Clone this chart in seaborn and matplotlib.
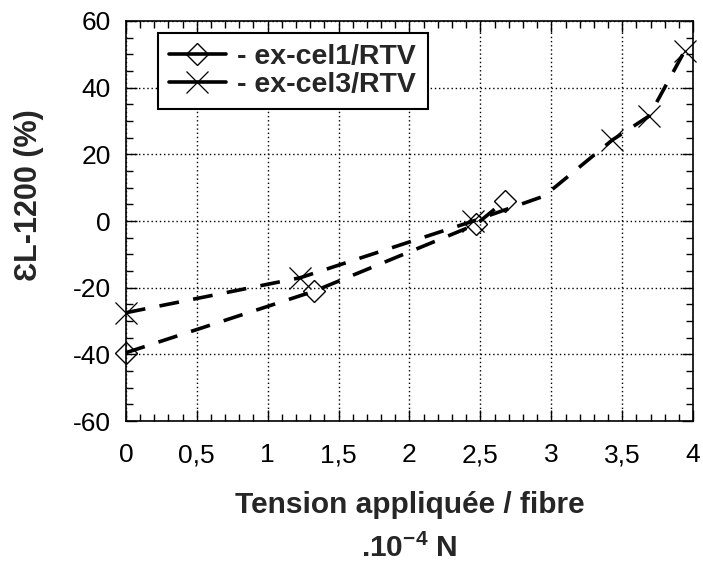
import matplotlib
matplotlib.use("Agg")
import matplotlib.pyplot as plt
from matplotlib.lines import Line2D
from matplotlib.ticker import MultipleLocator, FixedLocator, FuncFormatter
import pandas as pd
import seaborn as sns

# ex-cel1/RTV (losanges)
cel1X = [0.0, 1.33, 2.47, 2.67]
cel1Y = [-39.5, -21.0, -1.0, 6.0]
# ex-cel3/RTV (croix) - le coude vers 2.95 n'a pas de marqueur sur l'original
cel3X = [0.0, 1.23, 2.45, 2.95, 3.43, 3.69, 3.94]
cel3Y = [-27.5, -17.0, 0.0, 7.5, 24.3, 31.5, 51.0]
cel3Marked = [0, 1, 2, 4, 5, 6]

seriesLabels = ["- ex-cel1/RTV", "- ex-cel3/RTV"]
xTicks = [0, 0.5, 1, 1.5, 2, 2.5, 3, 3.5, 4]
yTicks = [-60, -40, -20, 0, 20, 40, 60]
xLabel = "Tension appliquée / fibre"
xUnit = ".10$^{\\mathbf{-4}}$ N"
yLabel = "ƐL-1200 (%)"

sns.set_style("ticks")
plt.rcParams["font.family"] = ["Liberation Sans", "DejaVu Sans"]
plt.rcParams["mathtext.fontset"] = "custom"
plt.rcParams["mathtext.rm"] = "Liberation Sans"
plt.rcParams["mathtext.bf"] = "Liberation Sans:bold"

LW = 2.6
DASH = (5.5, 4)
diamondStyle = dict(marker="D", ms=11.5, mfc="none", mec="black", mew=1.0)
crossStyle = dict(marker="x", ms=16, mec="black", mew=0.9)

fig, ax = plt.subplots(figsize=(7.03, 5.66))
fig.subplots_adjust(left=0.179, right=0.986, top=0.963, bottom=0.256)

cel1 = pd.DataFrame({"x": cel1X, "y": cel1Y})
cel3 = pd.DataFrame({"x": cel3X, "y": cel3Y})
sns.lineplot(data=cel1, x="x", y="y", ax=ax, sort=False, estimator=None,
             color="black", lw=LW, dashes=DASH, clip_on=False, legend=False,
             **diamondStyle)
sns.lineplot(data=cel3, x="x", y="y", ax=ax, sort=False, estimator=None,
             color="black", lw=LW, dashes=DASH, clip_on=False, legend=False,
             markevery=cel3Marked, **crossStyle)

ax.set_xlim(0, 4)
ax.set_ylim(-60, 60)
ax.xaxis.set_major_locator(FixedLocator(xTicks))
ax.yaxis.set_major_locator(FixedLocator(yTicks))
ax.xaxis.set_minor_locator(MultipleLocator(0.1))
ax.yaxis.set_minor_locator(MultipleLocator(5))
fmt = FuncFormatter(lambda v, p: f"{v:g}".replace(".", ","))
ax.xaxis.set_major_formatter(fmt)
ax.yaxis.set_major_formatter(fmt)

ax.set_axisbelow(True)
ax.grid(True, which="major", color="black", linestyle=(0, (1, 2)), lw=1.0)
ax.tick_params(which="both", direction="in", top=True, right=True,
               colors="black", width=1.0, labelsize=19)
ax.tick_params(which="major", length=8)
ax.tick_params(which="minor", length=5)
ax.tick_params(axis="x", pad=16)
ax.tick_params(axis="y", pad=11)
for sp in ax.spines.values():
    sp.set_color("black")
    sp.set_linewidth(1.2)

ax.set_xlabel(xLabel, fontsize=21.5, fontweight="bold", va="baseline")
ax.xaxis.set_label_coords(0.5, -0.23)
ax.text(0.5, -0.34, xUnit, transform=ax.transAxes, ha="center", va="baseline",
        fontsize=21.5, fontweight="bold")
ax.set_ylabel(yLabel, fontsize=22, fontweight="bold", va="center")
ax.yaxis.set_label_coords(-0.17, 0.565)

handles = [
    Line2D([], [], color="black", lw=LW, **diamondStyle),
    Line2D([], [], color="black", lw=LW, **crossStyle),
]
leg = ax.legend(handles, seriesLabels, loc="upper left",
                bbox_to_anchor=(0.056, 0.97), borderaxespad=0, frameon=True,
                fancybox=False, edgecolor="black", framealpha=1,
                prop={"weight": "bold", "size": 20.5}, handlelength=2.0,
                handletextpad=0.4, borderpad=0.4, labelspacing=0.05)
leg.get_frame().set_linewidth(1.5)

fig.savefig("out.png", dpi=100, facecolor="white")
plt.close()
